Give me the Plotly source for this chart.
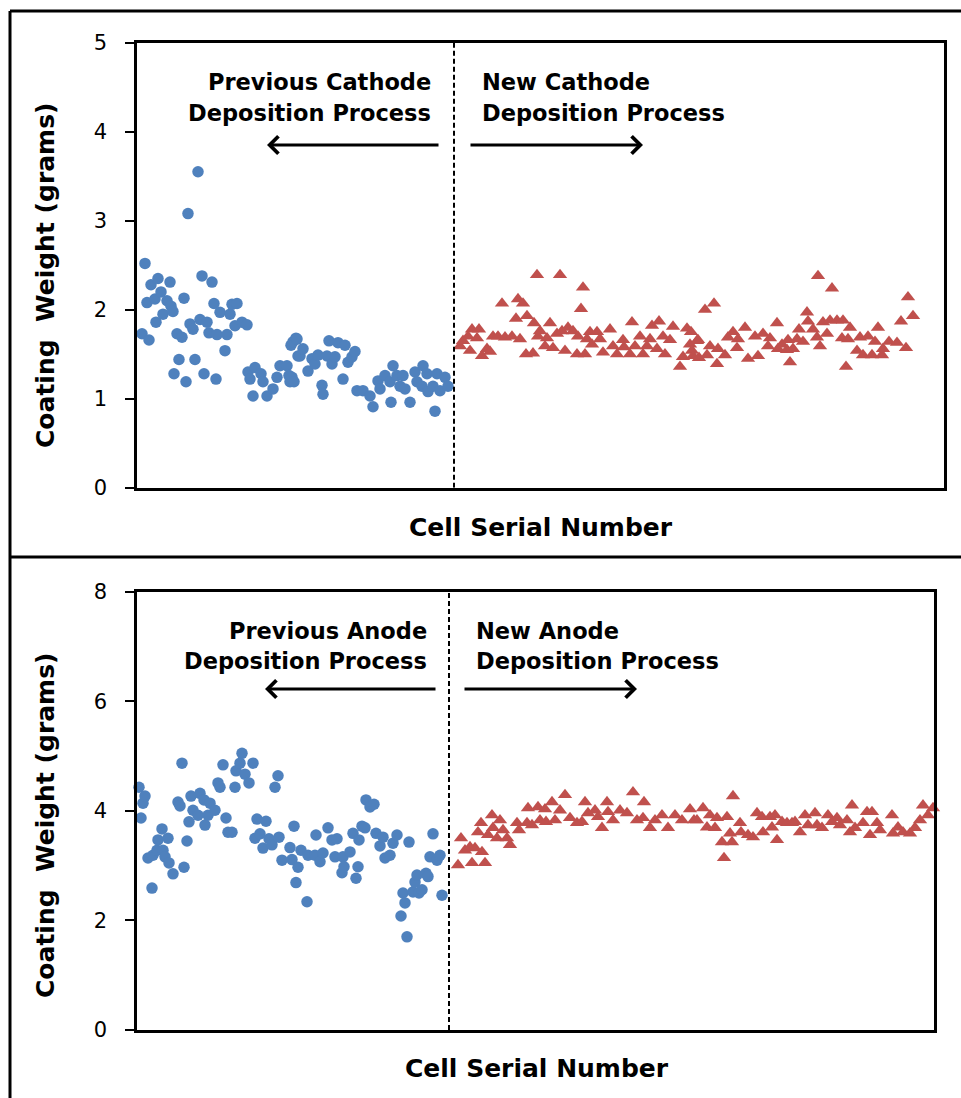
import plotly.graph_objects as go

# ---------------- data ----------------
# Top panel: cathode coating weight (grams) vs cell serial number
cathode_prev_serial = [
    5, 8, 10, 12, 14, 18, 19, 21, 24, 26,
    30, 33, 34, 36, 37, 40, 42, 45, 47, 49,
    51, 53, 56, 58, 61, 63, 65, 67, 70, 72,
    75, 77, 79, 80, 83, 88, 90, 93, 95, 98,
    100, 105, 110, 111, 113, 116, 118, 124, 126, 130,
    136, 140, 143, 150, 152, 153, 154, 155, 156, 157,
    159, 160, 161, 163, 166, 171, 175, 178, 181, 185,
    186, 190, 192, 195, 198, 201, 206, 208, 211, 215,
    218, 220, 226, 233, 236, 241, 243, 248, 253, 254,
    256, 260, 263, 266, 268, 273, 278, 280, 285, 286,
    290, 291, 296, 298, 300, 303, 308, 311]
cathode_prev_weight = [
    1.73, 2.52, 2.08, 1.66, 2.28, 2.12, 1.86, 2.35, 2.20, 1.95,
    2.10, 2.31, 2.04, 1.98, 1.28, 1.73, 1.44, 1.69, 2.13, 1.19,
    3.08, 1.84, 1.78, 1.44, 3.55, 1.89, 2.38, 1.28, 1.86, 1.74,
    2.31, 2.07, 1.22, 1.72, 1.97, 1.54, 1.72, 1.95, 2.06, 1.82,
    2.07, 1.86, 1.83, 1.30, 1.22, 1.03, 1.35, 1.28, 1.19, 1.03,
    1.11, 1.24, 1.37, 1.37, 1.26, 1.19, 1.60, 1.24, 1.64, 1.19,
    1.68, 1.67, 1.48, 1.48, 1.56, 1.31, 1.45, 1.39, 1.49, 1.15,
    1.05, 1.48, 1.65, 1.39, 1.47, 1.63, 1.22, 1.60, 1.41, 1.47,
    1.53, 1.09, 1.09, 1.03, 0.91, 1.20, 1.11, 1.26, 1.19, 0.96,
    1.37, 1.26, 1.14, 1.26, 1.11, 0.96, 1.30, 1.19, 1.14, 1.37,
    1.28, 1.08, 1.14, 0.86, 1.28, 1.09, 1.24, 1.14]

cathode_new_serial = [
    323, 326, 331, 333, 335, 340, 342, 345, 350, 353,
    356, 361, 365, 368, 375, 379, 381, 383, 386, 389,
    390, 396, 397, 400, 401, 403, 408, 410, 413, 416,
    420, 423, 425, 428, 431, 436, 440, 441, 444, 446,
    448, 450, 453, 455, 460, 463, 466, 473, 476, 480,
    486, 487, 493, 495, 498, 503, 506, 510, 513, 515,
    520, 522, 526, 528, 533, 536, 543, 546, 550, 553,
    554, 555, 556, 560, 561, 562, 568, 570, 573, 577,
    580, 581, 588, 591, 596, 600, 601, 608, 611, 618,
    621, 626, 631, 633, 640, 641, 645, 650, 651, 653,
    656, 660, 662, 666, 670, 671, 676, 680, 681, 683,
    686, 690, 693, 695, 700, 705, 706, 709, 711, 713,
    720, 723, 726, 731, 735, 738, 741, 745, 746, 752,
    760, 764, 769, 771, 776]
cathode_new_weight = [
    1.59, 1.65, 1.70, 1.54, 1.78, 1.68, 1.78, 1.48, 1.56, 1.53,
    1.70, 1.70, 2.07, 1.69, 1.70, 1.90, 2.12, 1.67, 2.07, 1.50,
    1.93, 1.51, 1.85, 2.39, 1.70, 1.76, 1.59, 1.68, 1.85, 1.57,
    1.73, 2.39, 1.76, 1.54, 1.80, 1.76, 1.50, 1.70, 2.01, 2.25,
    1.50, 1.67, 1.75, 1.61, 1.75, 1.67, 1.52, 1.78, 1.59, 1.50,
    1.66, 1.58, 1.50, 1.86, 1.59, 1.70, 1.50, 1.59, 1.67, 1.82,
    1.56, 1.87, 1.70, 1.50, 1.66, 1.81, 1.36, 1.47, 1.79, 1.61,
    1.75, 1.54, 1.48, 1.65, 1.66, 1.46, 2.00, 1.49, 1.59, 2.07,
    1.39, 1.56, 1.49, 1.69, 1.75, 1.57, 1.67, 1.80, 1.45, 1.70,
    1.48, 1.73, 1.59, 1.68, 1.85, 1.56, 1.61, 1.55, 1.66, 1.41,
    1.56, 1.67, 1.78, 1.64, 1.97, 1.87, 1.78, 1.69, 2.38, 1.59,
    1.86, 1.73, 1.88, 2.24, 1.88, 1.68, 1.88, 1.36, 1.67, 1.80,
    1.54, 1.69, 1.49, 1.70, 1.49, 1.64, 1.80, 1.49, 1.56, 1.64,
    1.63, 1.87, 1.57, 2.14, 1.93]

# Bottom panel: anode coating weight (grams) vs cell serial number
anode_prev_serial = [
    2, 4, 6, 8, 11, 15, 16, 20, 21, 25,
    26, 28, 31, 32, 36, 41, 43, 45, 47, 50,
    52, 54, 56, 61, 63, 67, 68, 71, 73, 78,
    81, 83, 86, 89, 91, 95, 98, 99, 103, 105,
    108, 112, 116, 118, 120, 123, 126, 129, 132, 135,
    138, 141, 142, 145, 153, 155, 157, 159, 161, 164,
    170, 171, 178, 179, 183, 186, 191, 195, 198, 200,
    205, 206, 207, 213, 216, 219, 221, 222, 225, 228,
    229, 233, 237, 239, 243, 246, 248, 253, 256, 260,
    264, 266, 268, 270, 272, 276, 278, 280, 282, 285,
    289, 291, 293, 296, 300, 303, 305]
anode_prev_weight = [
    4.43, 3.87, 4.14, 4.27, 3.14, 2.59, 3.19, 3.28, 3.47, 3.67,
    3.28, 3.16, 3.50, 3.05, 2.85, 4.16, 4.09, 4.87, 2.97, 3.45,
    3.80, 4.27, 4.01, 3.92, 4.32, 4.20, 3.74, 3.92, 4.14, 4.01,
    4.51, 4.43, 4.84, 3.87, 3.61, 3.61, 4.43, 4.73, 4.87, 5.05,
    4.67, 4.51, 4.87, 3.50, 3.85, 3.58, 3.32, 3.81, 3.49, 3.38,
    4.43, 4.64, 3.52, 3.10, 3.33, 3.11, 3.72, 2.69, 2.97, 3.28,
    2.34, 3.19, 3.19, 3.56, 3.07, 3.23, 3.69, 3.47, 3.16, 3.49,
    2.87, 3.16, 2.98, 3.25, 3.59, 2.77, 2.98, 3.47, 3.72, 3.69,
    4.20, 4.07, 4.12, 3.59, 3.36, 3.52, 3.14, 3.19, 3.41, 3.56,
    2.08, 2.50, 2.32, 1.70, 3.43, 2.52, 2.70, 2.83, 2.50, 2.56,
    2.86, 2.80, 3.16, 3.58, 3.10, 3.19, 2.46]

anode_new_serial = [
    321, 324, 328, 333, 335, 338, 341, 344, 345, 348,
    351, 355, 356, 360, 363, 366, 370, 373, 380, 382,
    390, 391, 395, 401, 403, 408, 409, 415, 418, 423,
    428, 433, 440, 445, 448, 451, 458, 461, 465, 470,
    471, 476, 483, 490, 496, 500, 506, 507, 513, 518,
    525, 531, 538, 545, 553, 557, 560, 566, 570, 573,
    578, 580, 585, 587, 590, 593, 595, 596, 603, 604,
    611, 616, 620, 625, 626, 633, 635, 638, 640, 645,
    650, 655, 658, 663, 668, 671, 678, 680, 685, 691,
    695, 700, 703, 710, 713, 715, 718, 726, 730, 733,
    735, 740, 743, 755, 756, 761, 766, 773, 778, 783,
    786, 791, 796, 798]
anode_new_weight = [
    3.01, 3.50, 3.28, 3.34, 3.05, 3.32, 3.61, 3.78, 3.25, 3.05,
    3.56, 3.92, 3.69, 3.50, 3.83, 3.65, 3.50, 3.38, 3.78, 3.65,
    3.78, 4.05, 3.74, 4.07, 3.83, 4.03, 3.80, 4.16, 3.83, 4.01,
    4.29, 3.87, 3.78, 3.80, 4.16, 3.96, 4.01, 3.89, 3.69, 4.16,
    3.98, 3.83, 4.01, 3.96, 4.34, 3.83, 3.87, 4.16, 3.69, 3.83,
    3.92, 3.69, 3.92, 3.83, 4.03, 3.83, 3.83, 4.05, 3.70, 3.92,
    3.69, 3.87, 3.43, 3.14, 3.89, 3.59, 3.43, 4.27, 3.78, 3.61,
    3.56, 3.52, 3.96, 3.89, 3.61, 3.89, 3.70, 3.92, 3.47, 3.80,
    3.78, 3.78, 3.80, 3.61, 3.92, 3.74, 3.96, 3.74, 3.69, 3.92,
    3.80, 3.87, 3.74, 3.83, 3.61, 4.10, 3.69, 3.78, 3.98, 3.56,
    3.98, 3.78, 3.65, 3.92, 3.59, 3.70, 3.61, 3.59, 3.69, 3.83,
    4.10, 3.92, 4.05, 3.87]

cathode_split = 317     # serial number where the new process starts
anode_split = 312
cathode_yticks = [0, 1, 2, 3, 4, 5]
anode_yticks = [0, 2, 4, 6, 8]

# ---------------- styling ----------------
W, H = 961, 1098
BLUE = "#4F81BD"
RED = "#C0504D"
FONT = "DejaVu Sans"


def px(x):
    return x / W


def py(y):
    return 1 - y / H


fig = go.Figure()

fig.add_trace(go.Scatter(x=cathode_prev_serial, y=cathode_prev_weight, mode="markers",
                         marker=dict(symbol="circle", size=11.5, color=BLUE),
                         xaxis="x", yaxis="y", cliponaxis=False, showlegend=False))
fig.add_trace(go.Scatter(x=cathode_new_serial, y=cathode_new_weight, mode="markers",
                         marker=dict(symbol="triangle-up", size=12.5, color=RED),
                         xaxis="x", yaxis="y", cliponaxis=False, showlegend=False))
fig.add_trace(go.Scatter(x=anode_prev_serial, y=anode_prev_weight, mode="markers",
                         marker=dict(symbol="circle", size=11.5, color=BLUE),
                         xaxis="x2", yaxis="y2", cliponaxis=False, showlegend=False))
fig.add_trace(go.Scatter(x=anode_new_serial, y=anode_new_weight, mode="markers",
                         marker=dict(symbol="triangle-up", size=12.5, color=RED),
                         xaxis="x2", yaxis="y2", cliponaxis=False, showlegend=False))

axis_common = dict(showgrid=False, zeroline=False, showline=True, linecolor="black",
                   linewidth=2.5, mirror=True, automargin=False)
yaxis_common = dict(axis_common, ticks="outside", ticklen=9, tickwidth=1.5,
                    tickcolor="black", ticklabelstandoff=14,
                    tickfont=dict(family=FONT, size=21, color="black"))

fig.update_layout(
    template="none",
    width=W, height=H,
    autosize=False,
    margin=dict(l=0, r=0, t=0, b=0, pad=0, autoexpand=False),
    paper_bgcolor="white", plot_bgcolor="white",
    xaxis=dict(axis_common, domain=[px(137), px(944)], range=[0, 807],
               showticklabels=False, ticks="", anchor="y"),
    yaxis=dict(yaxis_common, domain=[py(487.7), py(42.7)], range=[0, 5],
               tickvals=cathode_yticks, anchor="x"),
    xaxis2=dict(axis_common, domain=[px(137), px(934)], range=[0, 797],
                showticklabels=False, ticks="", anchor="y2"),
    yaxis2=dict(yaxis_common, domain=[py(1030), py(591.7)], range=[0, 8],
                tickvals=anode_yticks, anchor="x2"),
)

shapes = [
    # outer frames
    dict(type="line", xref="paper", yref="paper", x0=px(10), x1=1.0, y0=py(11), y1=py(11),
         line=dict(color="black", width=3)),
    dict(type="line", xref="paper", yref="paper", x0=px(10), x1=1.0, y0=py(557), y1=py(557),
         line=dict(color="black", width=3)),
    dict(type="line", xref="paper", yref="paper", x0=px(10), x1=px(10), y0=py(11), y1=0,
         line=dict(color="black", width=3)),
    # process split lines
    dict(type="line", xref="x", yref="y", x0=cathode_split, x1=cathode_split, y0=0, y1=5,
         line=dict(color="black", width=2, dash="5px,3px")),
    dict(type="line", xref="x2", yref="y2", x0=anode_split, x1=anode_split, y0=0, y1=8,
         line=dict(color="black", width=2, dash="5px,3px")),
]
fig.update_layout(shapes=shapes)

bold = dict(family=FONT, size=22.5, color="black")
title_font = dict(family=FONT, size=25, color="black")
ann = []


def label(text, x, y, xanchor, font=bold, angle=0):
    ann.append(dict(text=f"<b>{text}</b>", x=px(x), y=py(y), xref="paper", yref="paper",
                    xanchor=xanchor, yanchor="middle", showarrow=False, font=font,
                    textangle=angle))


# top panel labels
label("Previous Cathode", 433, 82, "right")
label("Deposition Process", 433, 113, "right")
label("New Cathode", 480, 82, "left")
label("Deposition Process", 480, 113, "left")
label("Cell Serial Number", 541, 527, "center", title_font)
label("Coating\u00a0 Weight (grams)", 45, 276, "center", title_font, -90)
# bottom panel labels
label("Previous Anode", 429, 631, "right")
label("Deposition Process", 429, 661, "right")
label("New Anode", 474, 631, "left")
label("Deposition Process", 474, 661, "left")
label("Cell Serial Number", 537, 1068, "center", title_font)
label("Coating\u00a0 Weight (grams)", 45, 826, "center", title_font, -90)


def arrow(tail, head, y):
    ann.append(dict(text="", x=px(head), y=py(y), xref="paper", yref="paper",
                    ax=tail - head, ay=0, axref="pixel", ayref="pixel",
                    showarrow=True, arrowhead=4, arrowsize=1.2, arrowwidth=2.8,
                    arrowcolor="black", standoff=0, startstandoff=0))


arrow(440, 267, 145)
arrow(469, 643, 145)
arrow(437, 265, 689)
arrow(463, 637, 689)

fig.update_layout(annotations=ann)

fig.write_html("out.html")
